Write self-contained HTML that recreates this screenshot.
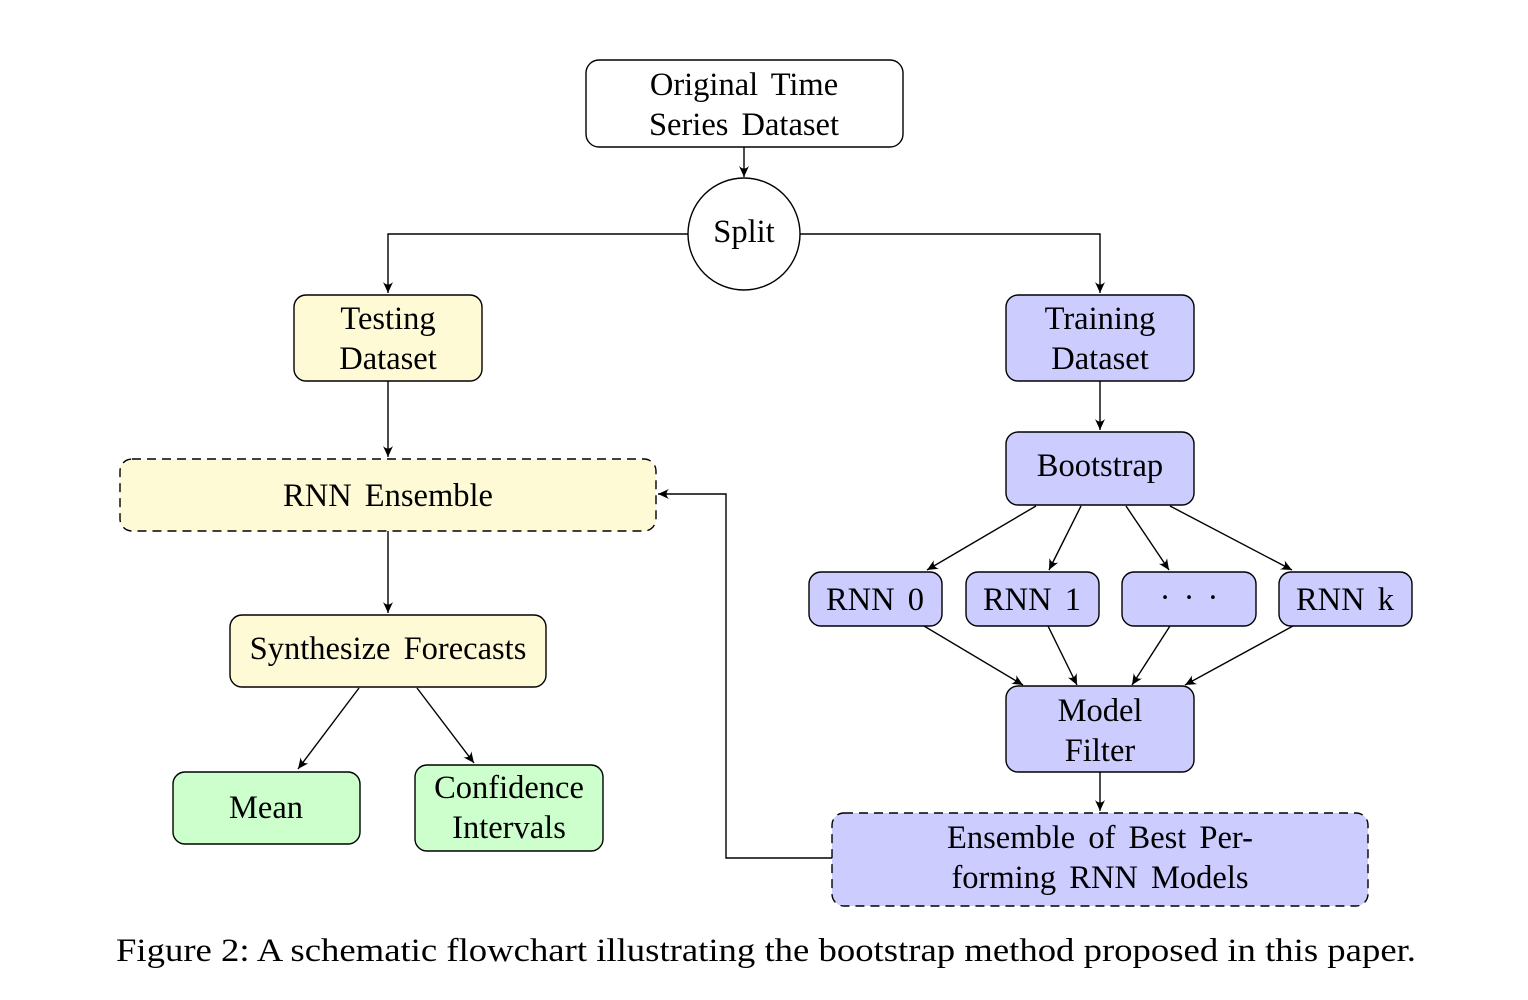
<!DOCTYPE html>
<html><head><meta charset="utf-8"><style>
html,body{margin:0;padding:0;background:#fff;}
svg{display:block;}
text{font-family:"Liberation Serif",serif;font-size:32.5px;fill:#000;text-anchor:middle;word-spacing:5px;}
</style></head><body>
<svg width="1528" height="1000" viewBox="0 0 1528 1000" xmlns="http://www.w3.org/2000/svg">
<defs>
<marker id="a" markerWidth="12" markerHeight="10" refX="11" refY="5" orient="auto" markerUnits="userSpaceOnUse">
<path d="M0,0 Q5,5 0,10 L11,5 Z" fill="#000"/>
</marker>
</defs>
<g stroke="#000" stroke-width="1.4" fill="none">
<rect x="586" y="60" width="317" height="87" rx="13" fill="#fff"/>
<circle cx="744" cy="234" r="56" fill="#fff"/>
<rect x="294" y="295" width="188" height="86" rx="12" fill="#fefad6"/>
<rect x="1006" y="295" width="188" height="86" rx="12" fill="#ccccff"/>
<rect x="120" y="459" width="536" height="72" rx="12" fill="#fefad6" stroke-dasharray="9,6"/>
<rect x="230" y="615" width="316" height="72" rx="12" fill="#fefad6"/>
<rect x="173" y="772" width="187" height="72" rx="12" fill="#ccffcc"/>
<rect x="415" y="765" width="188" height="86" rx="12" fill="#ccffcc"/>
<rect x="1006" y="432" width="188" height="73" rx="12" fill="#ccccff"/>
<rect x="809" y="572" width="133" height="54" rx="12" fill="#ccccff"/>
<rect x="966" y="572" width="133" height="54" rx="12" fill="#ccccff"/>
<rect x="1122" y="572" width="134" height="54" rx="12" fill="#ccccff"/>
<rect x="1279" y="572" width="133" height="54" rx="12" fill="#ccccff"/>
<rect x="1006" y="686" width="188" height="86" rx="12" fill="#ccccff"/>
<rect x="832" y="813" width="536" height="93" rx="12" fill="#ccccff" stroke-dasharray="9,6"/>

<line x1="744" y1="147" x2="744" y2="177" marker-end="url(#a)"/>
<polyline points="688,234 388,234 388,293" marker-end="url(#a)"/>
<polyline points="800,234 1100,234 1100,293" marker-end="url(#a)"/>
<line x1="388" y1="381" x2="388" y2="457" marker-end="url(#a)"/>
<line x1="388" y1="531" x2="388" y2="613" marker-end="url(#a)"/>
<line x1="359" y1="688" x2="298" y2="769" marker-end="url(#a)"/>
<line x1="417" y1="688" x2="474" y2="763" marker-end="url(#a)"/>
<line x1="1100" y1="381" x2="1100" y2="430" marker-end="url(#a)"/>
<line x1="1036" y1="506" x2="927" y2="570" marker-end="url(#a)"/>
<line x1="1081" y1="506" x2="1049" y2="570" marker-end="url(#a)"/>
<line x1="1126" y1="506" x2="1169" y2="570" marker-end="url(#a)"/>
<line x1="1170" y1="506" x2="1292" y2="570" marker-end="url(#a)"/>
<line x1="924" y1="626" x2="1023" y2="685" marker-end="url(#a)"/>
<line x1="1048" y1="626" x2="1077" y2="685" marker-end="url(#a)"/>
<line x1="1170" y1="626" x2="1132" y2="685" marker-end="url(#a)"/>
<line x1="1293" y1="626" x2="1185" y2="685" marker-end="url(#a)"/>
<line x1="1100" y1="772" x2="1100" y2="811" marker-end="url(#a)"/>
<polyline points="832,858 726,858 726,494 658,494" marker-end="url(#a)"/>
</g>
<text x="744" y="95">Original Time</text>
<text x="744" y="135">Series Dataset</text>
<text x="744" y="242">Split</text>
<text x="388" y="329">Testing</text>
<text x="388" y="369">Dataset</text>
<text x="1100" y="329">Training</text>
<text x="1100" y="369">Dataset</text>
<text x="388" y="506">RNN Ensemble</text>
<text x="388" y="659">Synthesize Forecasts</text>
<text x="266" y="818">Mean</text>
<text x="509" y="798">Confidence</text>
<text x="509" y="838">Intervals</text>
<text x="1100" y="476">Bootstrap</text>
<text x="875" y="610">RNN 0</text>
<text x="1032" y="610">RNN 1</text>
<text x="1189" y="608">· · ·</text>
<text x="1345" y="610">RNN k</text>
<text x="1100" y="721">Model</text>
<text x="1100" y="761">Filter</text>
<text x="1100" y="848">Ensemble of Best Per-</text>
<text x="1100" y="888">forming RNN Models</text>
<text x="766" y="961" style="font-size:33px;word-spacing:0" textLength="1300" lengthAdjust="spacingAndGlyphs">Figure 2: A schematic flowchart illustrating the bootstrap method proposed in this paper.</text>
</svg>
</body></html>
